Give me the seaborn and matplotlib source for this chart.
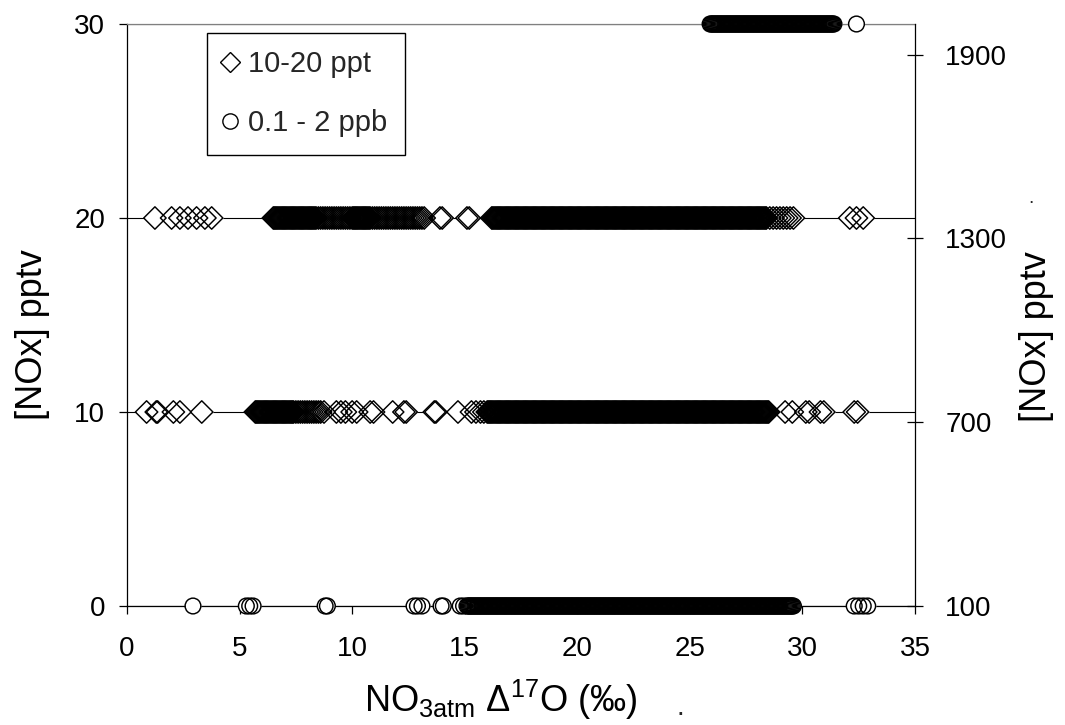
import numpy as np
import pandas as pd
import matplotlib
matplotlib.use("Agg")
import matplotlib.pyplot as plt
import seaborn as sns
from matplotlib.lines import Line2D

# ------------------------------------------------------------------ data
# NOx levels (pptv): diamonds on the left axis, circles on the right axis
nox_ppt_levels = [10, 20]
nox_ppb_levels = [100, 2000]

# NO3atm D17O values (permil), one list per NOx level
d17o_nox10 = [
    0.87, 1.3, 1.36, 2.06, 2.35, 3.32,
    5.7, 5.75, 5.8, 5.85, 5.9, 5.95, 6.0, 6.05, 6.1, 6.15, 6.2, 6.25, 6.3, 6.35, 6.4, 6.45,
    6.5, 6.55, 6.6, 6.65, 6.7, 6.75, 6.8, 6.85, 6.9, 6.95, 7.0, 7.05, 7.1, 7.15, 7.2, 7.25, 7.3, 7.35, 7.4,
    7.5, 7.6, 7.7, 7.8, 7.9, 8.0, 8.1, 8.2, 8.3, 8.4, 8.5, 8.6, 8.75,
    9.3, 9.5, 9.7, 10.0, 10.2, 10.8, 10.95, 11.8, 12.3, 12.4,
    13.65, 13.72, 14.7, 15.3, 15.5, 15.7, 15.85,
    16.0, 16.05, 16.1, 16.15, 16.2, 16.25, 16.3, 16.35, 16.4, 16.45, 16.5, 16.55, 16.6, 16.65, 16.7, 16.75, 16.8, 16.85, 16.9, 16.95,
    17.0, 17.05, 17.1, 17.15, 17.2, 17.25, 17.3, 17.35, 17.4, 17.45, 17.5, 17.55, 17.6, 17.65, 17.7, 17.75, 17.8, 17.85, 17.9, 17.95,
    18.0, 18.05, 18.1, 18.15, 18.2, 18.25, 18.3, 18.35, 18.4, 18.45, 18.5, 18.55, 18.6, 18.65, 18.7, 18.75, 18.8, 18.85, 18.9, 18.95,
    19.0, 19.05, 19.1, 19.15, 19.2, 19.25, 19.3, 19.35, 19.4, 19.45, 19.5, 19.55, 19.6, 19.65, 19.7, 19.75, 19.8, 19.85, 19.9, 19.95,
    20.0, 20.05, 20.1, 20.15, 20.2, 20.25, 20.3, 20.35, 20.4, 20.45, 20.5, 20.55, 20.6, 20.65, 20.7, 20.75, 20.8, 20.85, 20.9, 20.95,
    21.0, 21.05, 21.1, 21.15, 21.2, 21.25, 21.3, 21.35, 21.4, 21.45, 21.5, 21.55, 21.6, 21.65, 21.7, 21.75, 21.8, 21.85, 21.9, 21.95,
    22.0, 22.05, 22.1, 22.15, 22.2, 22.25, 22.3, 22.35, 22.4, 22.45, 22.5, 22.55, 22.6, 22.65, 22.7, 22.75, 22.8, 22.85, 22.9, 22.95,
    23.0, 23.05, 23.1, 23.15, 23.2, 23.25, 23.3, 23.35, 23.4, 23.45, 23.5, 23.55, 23.6, 23.65, 23.7, 23.75, 23.8, 23.85, 23.9, 23.95,
    24.0, 24.05, 24.1, 24.15, 24.2, 24.25, 24.3, 24.35, 24.4, 24.45, 24.5, 24.55, 24.6, 24.65, 24.7, 24.75, 24.8, 24.85, 24.9, 24.95,
    25.0, 25.05, 25.1, 25.15, 25.2, 25.25, 25.3, 25.35, 25.4, 25.45, 25.5, 25.55, 25.6, 25.65, 25.7, 25.75, 25.8, 25.85, 25.9, 25.95,
    26.0, 26.05, 26.1, 26.15, 26.2, 26.25, 26.3, 26.35, 26.4, 26.45, 26.5, 26.55, 26.6, 26.65, 26.7, 26.75, 26.8, 26.85, 26.9, 26.95,
    27.0, 27.05, 27.1, 27.15, 27.2, 27.25, 27.3, 27.35, 27.4, 27.45, 27.5, 27.55, 27.6, 27.65, 27.7, 27.75, 27.8, 27.85, 27.9, 27.95,
    28.0, 28.05, 28.1, 28.15, 28.2, 28.25, 28.3, 28.35, 28.4, 28.45, 28.5,
    29.23, 29.55, 30.15, 30.3, 30.8, 30.95, 32.3, 32.45,
]

d17o_nox20 = [
    1.24, 1.98, 2.35, 2.71, 3.09, 3.46, 3.76,
    6.5, 6.55, 6.6, 6.65, 6.7, 6.75, 6.8, 6.85, 6.9, 6.95, 7.0, 7.05, 7.1, 7.15, 7.2, 7.25, 7.3, 7.35,
    7.4, 7.45, 7.5, 7.55, 7.6, 7.65, 7.7, 7.75, 7.8, 7.85, 7.9, 7.95, 8.0, 8.05, 8.1, 8.15, 8.2, 8.25, 8.3, 8.35, 8.4,
    8.5, 8.6, 8.7, 8.8, 8.9, 9.0, 9.1, 9.2, 9.3, 9.4, 9.5, 9.6, 9.7, 9.8, 9.9,
    10.0, 10.05, 10.1, 10.15, 10.2, 10.25, 10.3, 10.35, 10.4, 10.45, 10.5, 10.55, 10.6, 10.65, 10.7, 10.75, 10.8,
    10.9, 11.0, 11.1, 11.2, 11.3, 11.4, 11.5, 11.6, 11.7, 11.8, 11.9, 12.0, 12.1, 12.2, 12.3, 12.4,
    12.5, 12.6, 12.7, 12.8, 12.9, 13.0, 13.1, 13.2,
    13.9, 14.0, 15.1, 15.2,
    16.2, 16.25, 16.3, 16.35, 16.4, 16.45, 16.5, 16.55, 16.6, 16.65, 16.7, 16.75, 16.8, 16.85, 16.9, 16.95,
    17.0, 17.05, 17.1, 17.15, 17.2, 17.25, 17.3, 17.35, 17.4, 17.45, 17.5, 17.55, 17.6, 17.65, 17.7, 17.75, 17.8, 17.85, 17.9, 17.95,
    18.0, 18.05, 18.1, 18.15, 18.2, 18.25, 18.3, 18.35, 18.4, 18.45, 18.5, 18.55, 18.6, 18.65, 18.7, 18.75, 18.8, 18.85, 18.9, 18.95,
    19.0, 19.05, 19.1, 19.15, 19.2, 19.25, 19.3, 19.35, 19.4, 19.45, 19.5, 19.55, 19.6, 19.65, 19.7, 19.75, 19.8, 19.85, 19.9, 19.95,
    20.0, 20.05, 20.1, 20.15, 20.2, 20.25, 20.3, 20.35, 20.4, 20.45, 20.5, 20.55, 20.6, 20.65, 20.7, 20.75, 20.8, 20.85, 20.9, 20.95,
    21.0, 21.05, 21.1, 21.15, 21.2, 21.25, 21.3, 21.35, 21.4, 21.45, 21.5, 21.55, 21.6, 21.65, 21.7, 21.75, 21.8, 21.85, 21.9, 21.95,
    22.0, 22.05, 22.1, 22.15, 22.2, 22.25, 22.3, 22.35, 22.4, 22.45, 22.5, 22.55, 22.6, 22.65, 22.7, 22.75, 22.8, 22.85, 22.9, 22.95,
    23.0, 23.05, 23.1, 23.15, 23.2, 23.25, 23.3, 23.35, 23.4, 23.45, 23.5, 23.55, 23.6, 23.65, 23.7, 23.75, 23.8, 23.85, 23.9, 23.95,
    24.0, 24.05, 24.1, 24.15, 24.2, 24.25, 24.3, 24.35, 24.4, 24.45, 24.5, 24.55, 24.6, 24.65, 24.7, 24.75, 24.8, 24.85, 24.9, 24.95,
    25.0, 25.05, 25.1, 25.15, 25.2, 25.25, 25.3, 25.35, 25.4, 25.45, 25.5, 25.55, 25.6, 25.65, 25.7, 25.75, 25.8, 25.85, 25.9, 25.95,
    26.0, 26.05, 26.1, 26.15, 26.2, 26.25, 26.3, 26.35, 26.4, 26.45, 26.5, 26.55, 26.6, 26.65, 26.7, 26.75, 26.8, 26.85, 26.9, 26.95,
    27.0, 27.05, 27.1, 27.15, 27.2, 27.25, 27.3, 27.35, 27.4, 27.45, 27.5, 27.55, 27.6, 27.65, 27.7, 27.75, 27.8, 27.85, 27.9, 27.95,
    28.0, 28.05, 28.1, 28.15, 28.2, 28.25, 28.3, 28.35, 28.4,
    28.55, 28.7, 28.85, 29.0, 29.15, 29.3, 29.45, 29.6,
    32.1, 32.4, 32.7,
]

d17o_nox100 = [
    2.93, 5.3, 5.45, 5.6, 8.8, 8.9, 12.75, 12.9, 13.1, 13.95, 14.05, 14.8, 14.95,
    15.1, 15.15, 15.2, 15.25, 15.3, 15.35, 15.4, 15.45, 15.5, 15.55, 15.6, 15.65, 15.7, 15.75, 15.8, 15.85, 15.9, 15.95,
    16.0, 16.05, 16.1, 16.15, 16.2, 16.25, 16.3, 16.35, 16.4, 16.45, 16.5, 16.55, 16.6, 16.65, 16.7, 16.75, 16.8, 16.85, 16.9, 16.95,
    17.0, 17.05, 17.1, 17.15, 17.2, 17.25, 17.3, 17.35, 17.4, 17.45, 17.5, 17.55, 17.6, 17.65, 17.7, 17.75, 17.8, 17.85, 17.9, 17.95,
    18.0, 18.05, 18.1, 18.15, 18.2, 18.25, 18.3, 18.35, 18.4, 18.45, 18.5, 18.55, 18.6, 18.65, 18.7, 18.75, 18.8, 18.85, 18.9, 18.95,
    19.0, 19.05, 19.1, 19.15, 19.2, 19.25, 19.3, 19.35, 19.4, 19.45, 19.5, 19.55, 19.6, 19.65, 19.7, 19.75, 19.8, 19.85, 19.9, 19.95,
    20.0, 20.05, 20.1, 20.15, 20.2, 20.25, 20.3, 20.35, 20.4, 20.45, 20.5, 20.55, 20.6, 20.65, 20.7, 20.75, 20.8, 20.85, 20.9, 20.95,
    21.0, 21.05, 21.1, 21.15, 21.2, 21.25, 21.3, 21.35, 21.4, 21.45, 21.5, 21.55, 21.6, 21.65, 21.7, 21.75, 21.8, 21.85, 21.9, 21.95,
    22.0, 22.05, 22.1, 22.15, 22.2, 22.25, 22.3, 22.35, 22.4, 22.45, 22.5, 22.55, 22.6, 22.65, 22.7, 22.75, 22.8, 22.85, 22.9, 22.95,
    23.0, 23.05, 23.1, 23.15, 23.2, 23.25, 23.3, 23.35, 23.4, 23.45, 23.5, 23.55, 23.6, 23.65, 23.7, 23.75, 23.8, 23.85, 23.9, 23.95,
    24.0, 24.05, 24.1, 24.15, 24.2, 24.25, 24.3, 24.35, 24.4, 24.45, 24.5, 24.55, 24.6, 24.65, 24.7, 24.75, 24.8, 24.85, 24.9, 24.95,
    25.0, 25.05, 25.1, 25.15, 25.2, 25.25, 25.3, 25.35, 25.4, 25.45, 25.5, 25.55, 25.6, 25.65, 25.7, 25.75, 25.8, 25.85, 25.9, 25.95,
    26.0, 26.05, 26.1, 26.15, 26.2, 26.25, 26.3, 26.35, 26.4, 26.45, 26.5, 26.55, 26.6, 26.65, 26.7, 26.75, 26.8, 26.85, 26.9, 26.95,
    27.0, 27.05, 27.1, 27.15, 27.2, 27.25, 27.3, 27.35, 27.4, 27.45, 27.5, 27.55, 27.6, 27.65, 27.7, 27.75, 27.8, 27.85, 27.9, 27.95,
    28.0, 28.05, 28.1, 28.15, 28.2, 28.25, 28.3, 28.35, 28.4, 28.45, 28.5, 28.55, 28.6, 28.65, 28.7, 28.75, 28.8, 28.85, 28.9, 28.95,
    29.0, 29.05, 29.1, 29.15, 29.2, 29.25, 29.3, 29.35, 29.4, 29.45, 29.5, 29.55, 29.6,
    32.3, 32.5, 32.7, 32.9,
]

d17o_nox2000 = [
    25.9, 25.95,
    26.0, 26.05, 26.1, 26.15, 26.2, 26.25, 26.3, 26.35, 26.4, 26.45, 26.5, 26.55, 26.6, 26.65, 26.7, 26.75, 26.8, 26.85, 26.9, 26.95,
    27.0, 27.05, 27.1, 27.15, 27.2, 27.25, 27.3, 27.35, 27.4, 27.45, 27.5, 27.55, 27.6, 27.65, 27.7, 27.75, 27.8, 27.85, 27.9, 27.95,
    28.0, 28.05, 28.1, 28.15, 28.2, 28.25, 28.3, 28.35, 28.4, 28.45, 28.5, 28.55, 28.6, 28.65, 28.7, 28.75, 28.8, 28.85, 28.9, 28.95,
    29.0, 29.05, 29.1, 29.15, 29.2, 29.25, 29.3, 29.35, 29.4, 29.45, 29.5, 29.55, 29.6, 29.65, 29.7, 29.75, 29.8, 29.85, 29.9, 29.95,
    30.0, 30.05, 30.1, 30.15, 30.2, 30.25, 30.3, 30.35, 30.4, 30.45, 30.5, 30.55, 30.6, 30.65, 30.7, 30.75, 30.8, 30.85, 30.9, 30.95,
    31.0, 31.05, 31.1, 31.15, 31.2, 31.25, 31.3, 31.35, 31.4,
    32.4,
]

x_ticks = [0, 5, 10, 15, 20, 25, 30, 35]
left_ticks = [0, 10, 20, 30]
right_ticks = [100, 700, 1300, 1900]
legend_labels = ["10-20 ppt", "0.1 - 2 ppb"]
x_label = "NO$_{3atm}$ Δ$^{17}$O (‰)"
y_label = "[NOx] pptv"

# ------------------------------------------------------------------ tables
df_ppt = pd.DataFrame({
    "d17O": d17o_nox10 + d17o_nox20,
    "nox": [nox_ppt_levels[0]] * len(d17o_nox10) + [nox_ppt_levels[1]] * len(d17o_nox20),
})
df_ppb = pd.DataFrame({
    "d17O": d17o_nox100 + d17o_nox2000,
    "nox": [nox_ppb_levels[0]] * len(d17o_nox100) + [nox_ppb_levels[1]] * len(d17o_nox2000),
})

# ------------------------------------------------------------------ style
sns.set_style("white")
plt.rcParams["font.family"] = ["Liberation Sans", "DejaVu Sans"]
plt.rcParams["mathtext.fontset"] = "custom"
plt.rcParams["mathtext.rm"] = "Liberation Sans"
plt.rcParams["mathtext.it"] = "Liberation Sans:italic"
plt.rcParams["mathtext.default"] = "rm"

fig = plt.figure(figsize=(10.65, 7.25), dpi=100)
ax = fig.add_axes([127 / 1065, 1 - 606 / 725, 788 / 1065, 582 / 725])
ax2 = ax.twinx()


def draw_markers(data, axis, marker, size):
    # white bodies first (hide the grid lines), then hollow outlines on top
    sns.scatterplot(data=data, x="d17O", y="nox", ax=axis, marker=marker, s=size,
                    color="white", linewidth=0, legend=False, clip_on=False, zorder=3)
    sns.scatterplot(data=data, x="d17O", y="nox", ax=axis, marker=marker, s=size,
                    color="black", edgecolor="black", linewidth=1.05,
                    legend=False, clip_on=False, zorder=4)
    axis.collections[-1].set_facecolor("none")


draw_markers(df_ppt, ax, "D", 130)
draw_markers(df_ppb, ax2, "o", 128)

ax.set_xlim(0, 35)
ax.set_ylim(0, 30)
ax2.set_ylim(100, 2000)
ax.set_xticks(x_ticks)
ax.set_yticks(left_ticks)
ax2.set_yticks(right_ticks)

ax.grid(False)
ax2.grid(False)
ax.yaxis.grid(True, color="black", linewidth=0.8)
ax.set_axisbelow(True)

for side in ["left", "bottom"]:
    ax.spines[side].set_color("black")
    ax.spines[side].set_linewidth(0.9)
ax.spines["top"].set_color("#808080")
ax.spines["top"].set_linewidth(0.9)
ax.spines["right"].set_visible(False)
for side in ["left", "bottom", "top"]:
    ax2.spines[side].set_visible(False)
ax2.spines["right"].set_visible(True)
ax2.spines["right"].set_color("black")
ax2.spines["right"].set_linewidth(0.9)

ax.tick_params(axis="x", direction="out", length=5.8, width=0.9, pad=16,
               labelsize=20, colors="black", bottom=True)
ax.tick_params(axis="y", direction="out", length=5.8, width=0.9, pad=10,
               labelsize=20, colors="black", left=True)
ax2.tick_params(axis="y", direction="inout", length=11.5, width=0.9, pad=16,
                labelsize=20, colors="black", right=True)

ax.set_xlabel(x_label, fontsize=26, color="black")
ax.xaxis.set_label_coords((501 - 127) / 788, -0.124)
ax.set_ylabel(y_label, fontsize=26, color="black")
ax.yaxis.set_label_coords((50 - 127) / 788, (606 - 335) / 582)
ax2.set_ylabel(y_label, fontsize=26, color="black")
ax2.yaxis.set_label_coords((1019 - 127) / 788, (606 - 337) / 582)

handles = [
    Line2D([], [], marker="D", linestyle="none", markersize=10,
           markerfacecolor="white", markeredgecolor="black", markeredgewidth=1.0),
    Line2D([], [], marker="o", linestyle="none", markersize=11,
           markerfacecolor="white", markeredgecolor="black", markeredgewidth=1.0),
]
leg = ax2.legend(handles, legend_labels, loc="upper left",
                 bbox_to_anchor=(207 / 1065, 1 - 33 / 725),
                 bbox_transform=fig.transFigure, frameon=True, fancybox=False,
                 edgecolor="black", framealpha=1, fontsize=21, borderpad=0.6,
                 labelspacing=1.05, handlelength=0.4, handletextpad=0.4,
                 borderaxespad=0)
leg.get_frame().set_linewidth(1.0)

fig.text(680 / 1065, 1 - 715 / 725, ".", fontsize=20, ha="center", va="baseline")
fig.text(1031 / 1065, 1 - 203 / 725, ".", fontsize=14, ha="center", va="baseline")

fig.savefig("out.png", dpi=100)
